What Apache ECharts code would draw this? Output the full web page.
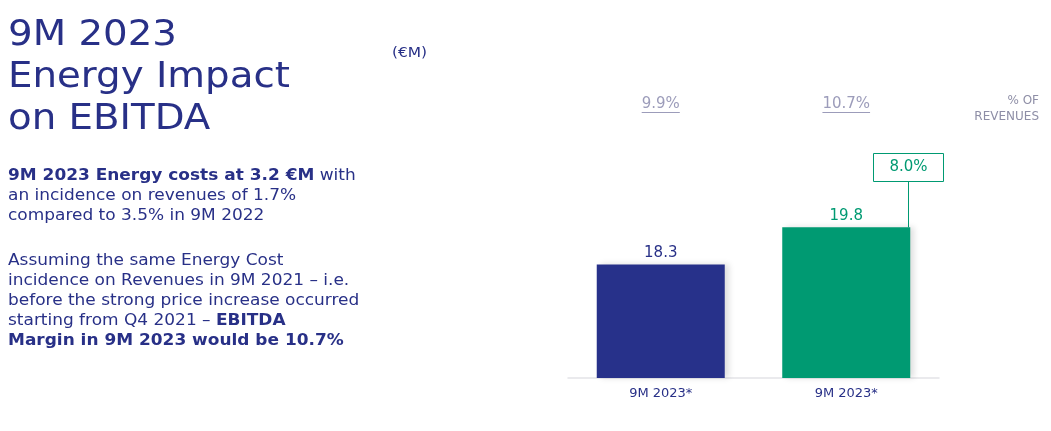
<!DOCTYPE html>
<html>
<head>
<meta charset="utf-8">
<script src="https://cdn.jsdelivr.net/npm/echarts@6/dist/echarts.min.js"></script>
<style>
html,body{margin:0;padding:0;background:#fff;}
#main{width:1051px;height:431px;}
</style>
</head>
<body>
<div id="main"></div>
<script>
// ---- data ----
const categories = ['9M 2023*', '9M 2023*'];
const ebitdaValues = [18.3, 19.8];
const marginLabels = ['9.9%', '10.7%'];
const energyImpactLabel = '8.0%';
const unitLabel = '(€M)';
const marginHeader = ['% OF', 'REVENUES'];
const titleLines = ['9M 2023', 'Energy Impact', 'on EBITDA'];

// ---- style ----
const FONT = "'DejaVu Sans'";
const NAVY = '#283087';
const BLUE_BAR = '#27318a';
const GREEN = '#009a72';
const GREY_PCT = '#9c9cba';
const BAR_WIDTH = 128;

const chart = echarts.init(document.getElementById('main'), null, {renderer: 'canvas'});

const richBody = {
  b: {fill: NAVY, fontWeight: 'bold', fontSize: 16, fontFamily: FONT, lineHeight: 20},
  n: {fill: NAVY, fontSize: 16, fontFamily: FONT, lineHeight: 20}
};

const option = {
  backgroundColor: '#ffffff',
  animation: false,
  textStyle: {fontFamily: FONT},
  grid: {left: 568, right: 112, top: 115, bottom: 53, containLabel: false},
  xAxis: [
    {
      type: 'category',
      data: categories,
      axisLine: {show: true, lineStyle: {color: '#e4e4e8', width: 1.5}},
      axisTick: {show: false},
      axisLabel: {color: NAVY, fontSize: 13, fontFamily: FONT, margin: 9}
    },
    {
      type: 'category',
      position: 'top',
      data: marginLabels,
      axisLine: {show: false},
      axisTick: {show: false},
      axisLabel: {color: GREY_PCT, fontSize: 15, fontFamily: FONT, margin: 3}
    }
  ],
  yAxis: {
    type: 'value',
    min: 13.7,
    max: 24.35,
    show: false,
    splitLine: {show: false}
  },
  series: [
    {
      type: 'bar',
      xAxisIndex: 0,
      barWidth: BAR_WIDTH,
      data: ebitdaValues.map((v, i) => ({
        value: v,
        itemStyle: {color: i === 0 ? BLUE_BAR : GREEN},
        label: {color: i === 0 ? NAVY : GREEN}
      })),
      itemStyle: {
        shadowColor: 'rgba(0,0,0,0.13)',
        shadowBlur: 6,
        shadowOffsetX: 4,
        shadowOffsetY: 0
      },
      label: {
        show: true,
        position: 'top',
        distance: 4,
        fontSize: 15,
        fontFamily: FONT,
        formatter: p => p.value.toFixed(1)
      }
    }
  ],
  graphic: [
    {
      type: 'text', x: 8, y: 15, scaleX: 1.076,
      style: {
        text: titleLines.join('\n'),
        fill: NAVY, fontSize: 36, fontFamily: FONT, lineHeight: 42,
        align: 'left', verticalAlign: 'top'
      }
    },
    {
      type: 'text', x: 392, y: 46, scaleX: 1.1,
      style: {text: unitLabel, fill: NAVY, fontSize: 14, fontFamily: FONT, verticalAlign: 'top'}
    },
    {
      type: 'text', x: 8, y: 166, scaleX: 1.06,
      style: {
        text: '{b|9M 2023 Energy costs at 3.2 €M}{n| with}\n{n|an incidence on revenues of 1.7%}\n{n|compared to 3.5% in 9M 2022}',
        rich: richBody, verticalAlign: 'top'
      }
    },
    {
      type: 'text', x: 8, y: 251, scaleX: 1.06,
      style: {
        text: '{n|Assuming the same Energy Cost}\n{n|incidence on Revenues in 9M 2021 – i.e.}\n{n|before the strong price increase occurred}\n{n|starting from Q4 2021 – }{b|EBITDA}\n{b|Margin in 9M 2023 would be 10.7%}',
        rich: richBody, verticalAlign: 'top'
      }
    },
    {
      type: 'text', x: 1039, y: 95,
      style: {
        text: marginHeader[0], fill: '#8e8ea6', fontSize: 12, fontFamily: FONT,
        align: 'right', verticalAlign: 'top'
      }
    },
    {
      type: 'text', x: 1039, y: 111,
      style: {
        text: marginHeader[1], fill: '#8e8ea6', fontSize: 12, fontFamily: FONT,
        align: 'right', verticalAlign: 'top'
      }
    }
  ]
};

chart.setOption(option);

// ---- derived decorations positioned through the chart's own scales ----
function addDecorations() {
  const measure = document.createElement('canvas').getContext('2d');
  measure.font = '15px ' + FONT;
  const extra = [];
  marginLabels.forEach((lab, i) => {
    const x = chart.convertToPixel({xAxisIndex: 1}, i);
    const w = measure.measureText(lab).width;
    extra.push({
      type: 'line', id: 'ul' + i,
      shape: {x1: x - w / 2, y1: 112.5, x2: x + w / 2, y2: 112.5},
      style: {stroke: GREY_PCT, lineWidth: 1}
    });
  });
  const idx = 1;
  const top = chart.convertToPixel({xAxisIndex: 0, yAxisIndex: 0}, [idx, ebitdaValues[idx]]);
  const lineX = Math.round(top[0] + BAR_WIDTH / 2) - 1.5;
  const boxW = 70, boxH = 28;
  const boxBottom = Math.round(top[1] - 46) + 0.5;
  extra.push({
    type: 'line', id: 'conn',
    shape: {x1: lineX, y1: boxBottom, x2: lineX, y2: top[1]},
    style: {stroke: GREEN, lineWidth: 1}
  });
  extra.push({
    type: 'rect', id: 'box',
    shape: {x: lineX - boxW / 2, y: boxBottom - boxH, width: boxW, height: boxH},
    style: {fill: '#ffffff', stroke: GREEN, lineWidth: 1}
  });
  extra.push({
    type: 'text', id: 'boxText',
    x: lineX, y: boxBottom - boxH / 2,
    style: {
      text: energyImpactLabel, fill: GREEN, fontSize: 15, fontFamily: FONT,
      align: 'center', verticalAlign: 'middle'
    }
  });
  chart.setOption({graphic: option.graphic.concat(extra)});
}
addDecorations();
</script>
</body>
</html>
